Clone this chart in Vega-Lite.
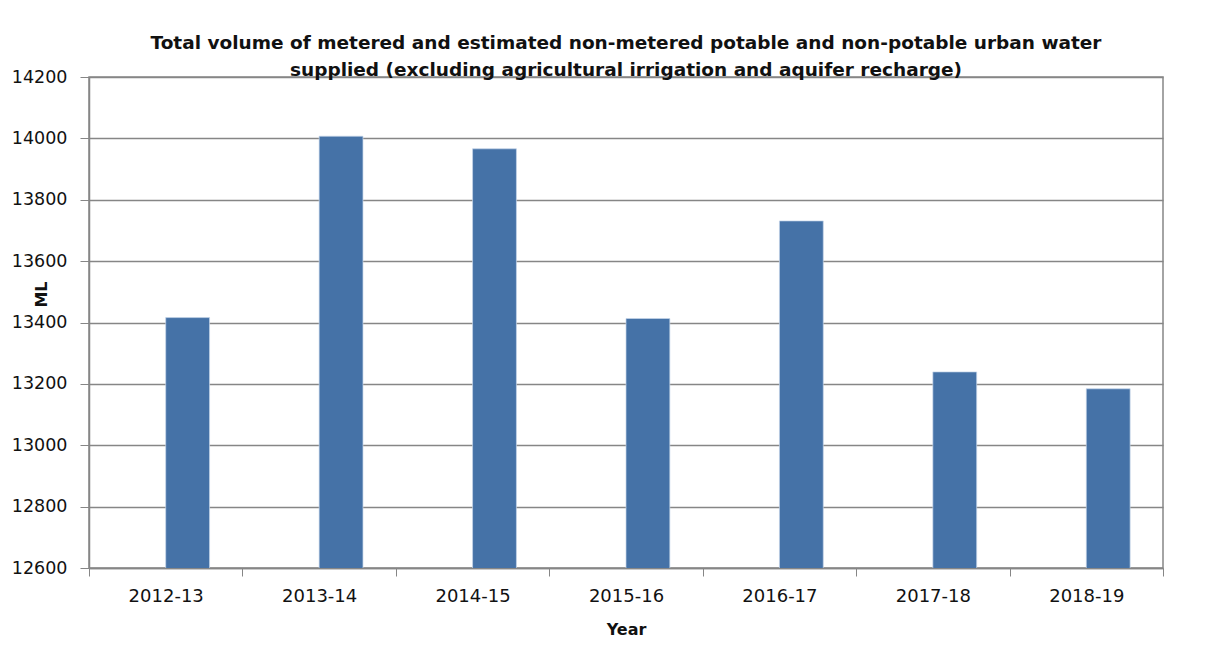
{
  "$schema": "https://vega.github.io/schema/vega-lite/v6.json",
  "autosize": {"type": "none"},
  "padding": {"left": 89, "top": 77, "right": 67, "bottom": 92},
  "width": 1074,
  "height": 491,
  "background": "white",
  "title": {
    "text": ["Total volume of metered and estimated non-metered potable and non-potable urban water", "supplied (excluding agricultural irrigation and aquifer recharge)"],
    "font": "DejaVu Sans",
    "fontSize": 18.5,
    "fontWeight": "bold",
    "color": "#111111",
    "lineHeight": 27,
    "anchor": "middle",
    "frame": "group",
    "offset": -11
  },
  "data": {
    "values": [
      {"year": "2012-13", "series": "ML", "value": 13416},
      {"year": "2013-14", "series": "ML", "value": 14007},
      {"year": "2014-15", "series": "ML", "value": 13966},
      {"year": "2015-16", "series": "ML", "value": 13413},
      {"year": "2016-17", "series": "ML", "value": 13731},
      {"year": "2017-18", "series": "ML", "value": 13239},
      {"year": "2018-19", "series": "ML", "value": 13184}
    ]
  },
  "mark": {"type": "bar", "color": "#4572A7", "stroke": "#c6d6ea", "strokeWidth": 0.7, "clip": true},
  "encoding": {
    "x": {
      "field": "year",
      "type": "nominal",
      "sort": null,
      "scale": {"paddingInner": 0, "paddingOuter": 0},
      "axis": {
        "title": "Year",
        "titleFont": "DejaVu Sans",
        "titleFontSize": 16,
        "titleFontWeight": "bold",
        "titleColor": "#111111",
        "titlePadding": 16,
        "labelAngle": 0,
        "labelFont": "DejaVu Sans",
        "labelFontSize": 18,
        "labelColor": "#111111",
        "labelPadding": 11,
        "tickBand": "extent",
        "tickSize": 8,
        "tickColor": "#868686",
        "domainColor": "#868686",
        "domainWidth": 1.5,
        "grid": false
      }
    },
    "xOffset": {
      "field": "series",
      "type": "nominal",
      "scale": {"domain": ["hidden", "ML"], "paddingInner": 0, "paddingOuter": 0.75}
    },
    "y": {
      "field": "value",
      "type": "quantitative",
      "scale": {"domain": [12600, 14200], "zero": false, "nice": false},
      "axis": {
        "title": "ML",
        "titleFont": "DejaVu Sans",
        "titleFontSize": 16,
        "titleFontWeight": "bold",
        "titleColor": "#111111",
        "titleAngle": -90,
        "titleX": -48,
        "titleY": 217,
        "titleAlign": "center",
        "titleBaseline": "middle",
        "values": [12600, 12800, 13000, 13200, 13400, 13600, 13800, 14000, 14200],
        "format": "d",
        "labelFont": "DejaVu Sans",
        "labelFontSize": 17.5,
        "labelColor": "#111111",
        "labelPadding": 13,
        "tickSize": 9,
        "tickColor": "#868686",
        "domainColor": "#868686",
        "domainWidth": 1.5,
        "grid": true,
        "gridColor": "#868686",
        "gridWidth": 1.5
      }
    }
  },
  "config": {
    "view": {"stroke": "#868686", "strokeWidth": 1.5}
  }
}
